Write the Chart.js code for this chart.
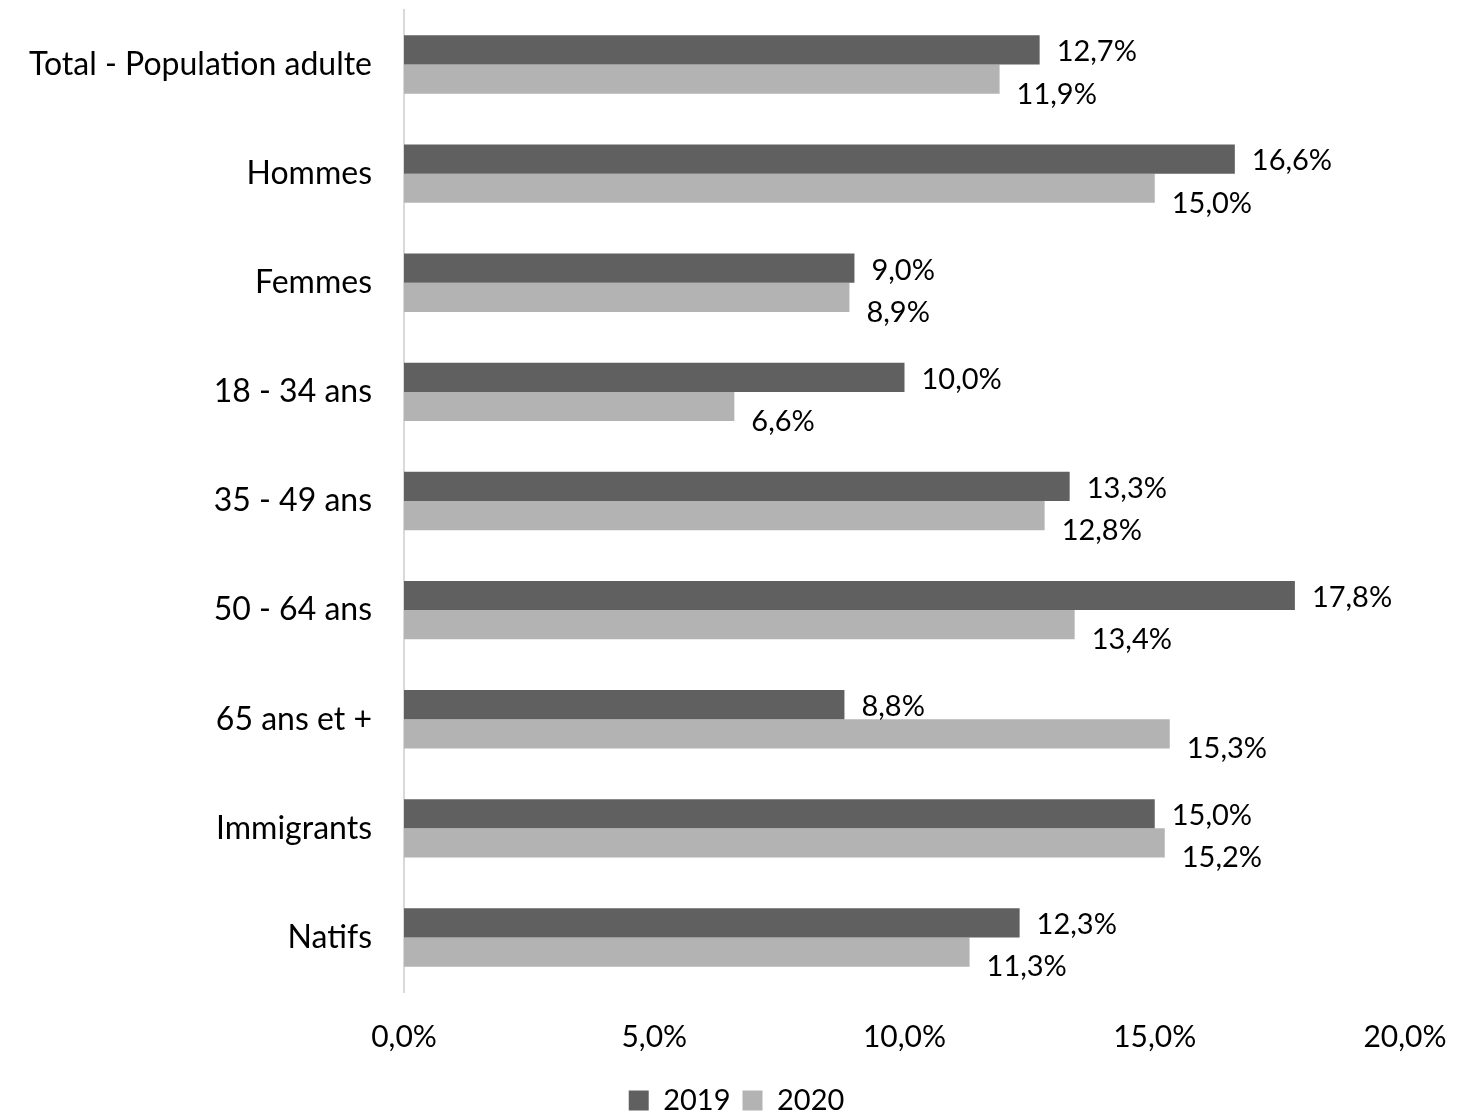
<!DOCTYPE html>
<html>
<head>
<meta charset="utf-8">
<script src="https://cdn.jsdelivr.net/npm/chart.js@4/dist/chart.umd.min.js"></script>
<style>
html,body{margin:0;padding:0;background:#fff;}
#wrap{width:1473px;height:1113px;}
</style>
</head>
<body>
<div id="wrap"><canvas id="c" width="1473" height="1113"></canvas></div>
<script>
const categories = ["Total - Population adulte","Hommes","Femmes","18 - 34 ans","35 - 49 ans","50 - 64 ans","65 ans et +","Immigrants","Natifs"];
const values2019 = [12.7,16.6,9.0,10.0,13.3,17.8,8.8,15.0,12.3];
const values2020 = [11.9,15.0,8.9,6.6,12.8,13.4,15.3,15.2,11.3];
const seriesNames = ["2019","2020"];
const xTicks = [0,5,10,15,20];

const FONT = "Lato, 'Noto Sans', sans-serif";
const fmt = v => v.toFixed(1).replace('.', ',') + '%';

const labelPlugin = {
  id: 'valueLabels',
  afterDatasetsDraw(chart) {
    const ctx = chart.ctx;
    ctx.save();
    ctx.font = "29px " + FONT;
    ctx.fillStyle = "#000";
    ctx.textAlign = "left";
    ctx.textBaseline = "middle";
    chart.data.datasets.forEach((ds, di) => {
      const meta = chart.getDatasetMeta(di);
      meta.data.forEach((bar, i) => {
        const dy = di === 0 ? 2 : 15;
        ctx.fillText(fmt(ds.data[i]), bar.x + 17, bar.y + dy);
      });
    });
    ctx.restore();
  }
};

new Chart(document.getElementById('c'), {
  type: 'bar',
  data: {
    labels: categories,
    datasets: [
      {label: seriesNames[0], data: values2019, backgroundColor: '#606060', categoryPercentage: 0.535, barPercentage: 1.0},
      {label: seriesNames[1], data: values2020, backgroundColor: '#b3b3b3', categoryPercentage: 0.535, barPercentage: 1.0}
    ]
  },
  options: {
    indexAxis: 'y',
    responsive: false,
    animation: false,
    layout: {padding: {left: 0, right: 0, top: 10, bottom: -12}},
    plugins: {
      legend: {
        position: 'bottom',
        labels: {
          boxWidth: 20, boxHeight: 20, padding: 12,
          color: '#000',
          font: {family: FONT, size: 29}
        }
      },
      tooltip: {enabled: false}
    },
    scales: {
      x: {
        min: 0, max: 20,
        afterBuildTicks: s => { s.ticks = xTicks.map(v => ({value: v})); },
        afterFit: s => { s.paddingRight = 68; },
        grid: {display: false},
        border: {display: false},
        ticks: {
          color: '#000', padding: 19,
          font: {family: FONT, size: 30},
          callback: v => fmt(v)
        }
      },
      y: {
        grid: {display: false},
        border: {display: true, color: '#d9d9d9', width: 2},
        afterFit: s => { s.width = 404; s.paddingTop = 0; s.paddingBottom = 0; },
        ticks: {
          color: '#000', padding: 24,
          font: {family: FONT, size: 32}
        }
      }
    }
  },
  plugins: [labelPlugin]
});
</script>
</body>
</html>
